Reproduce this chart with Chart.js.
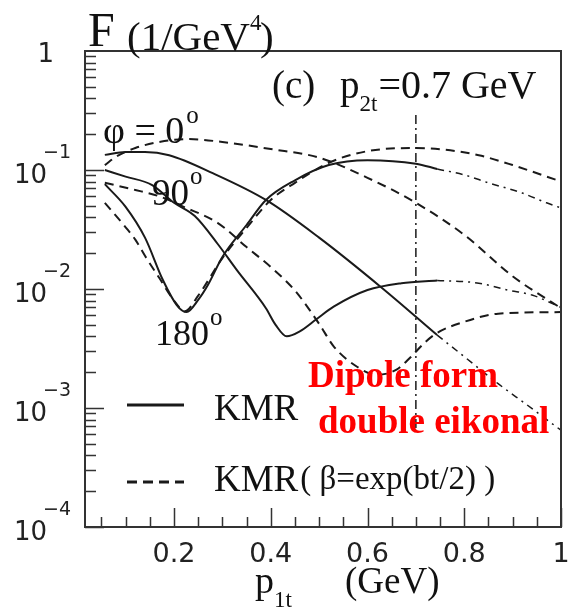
<!DOCTYPE html>
<html>
<head>
<meta charset="utf-8">
<script src="https://cdn.jsdelivr.net/npm/chart.js@4.4.0/dist/chart.umd.min.js"></script>
<style>
    body { margin: 0; background: #fff; }
    #wrap { width: 571px; height: 613px; }
</style>
</head>
<body>
<div id="wrap"><canvas id="graph" width="571" height="613"></canvas></div>
<script>
// KMR, solid (computed up to p1t = 0.744)
const kmr0X = [0.057, 0.10, 0.14, 0.19, 0.28, 0.39, 0.50, 0.63, 0.744];
const kmr0Y = [0.134, 0.142, 0.142, 0.133, 0.094, 0.056, 0.027, 0.0102, 0.0041];
const kmr90X = [0.057, 0.10, 0.154, 0.20, 0.243, 0.29, 0.33, 0.39, 0.41, 0.433, 0.46, 0.495, 0.53, 0.60, 0.67, 0.744];
const kmr90Y = [0.100, 0.088, 0.075, 0.053, 0.041, 0.024, 0.0144, 0.0069, 0.0050, 0.0040, 0.0044, 0.0056, 0.0071, 0.0098, 0.0112, 0.0118];
const kmr180X = [0.057, 0.10, 0.14, 0.177, 0.206, 0.226, 0.25, 0.27, 0.30, 0.35, 0.39, 0.45, 0.52, 0.60, 0.70, 0.744];
const kmr180Y = [0.076, 0.049, 0.027, 0.0119, 0.0073, 0.0064, 0.0081, 0.0108, 0.0186, 0.0345, 0.056, 0.082, 0.110, 0.121, 0.113, 0.102];

// KMR extrapolated (dash-dot) beyond 0.744
const ext0X = [0.744, 0.80, 0.87, 0.93, 1.0];
const ext0Y = [0.0041, 0.0027, 0.0016, 0.00106, 0.00065];
const ext90X = [0.744, 0.83, 0.89, 0.94, 1.0];
const ext90Y = [0.0118, 0.0112, 0.0098, 0.0089, 0.0070];
const ext180X = [0.744, 0.80, 0.85, 0.92, 0.97, 1.0];
const ext180Y = [0.102, 0.091, 0.078, 0.064, 0.053, 0.048];

// KMR with beta = exp(bt/2), dashed
const beta0X = [0.057, 0.08, 0.12, 0.18, 0.23, 0.30, 0.40, 0.50, 0.60, 0.70, 0.80, 0.90, 1.0];
const beta0Y = [0.110, 0.129, 0.153, 0.175, 0.182, 0.172, 0.150, 0.127, 0.086, 0.053, 0.0285, 0.0128, 0.0069];
const beta90X = [0.057, 0.12, 0.17, 0.22, 0.29, 0.35, 0.40, 0.45, 0.50, 0.53, 0.58, 0.62, 0.66, 0.69, 0.72, 0.745, 0.80, 0.87, 1.0];
const beta90Y = [0.078, 0.068, 0.060, 0.049, 0.036, 0.0225, 0.0153, 0.0097, 0.0051, 0.0033, 0.0022, 0.0019, 0.0021, 0.0027, 0.0036, 0.0043, 0.0053, 0.0062, 0.0064];
const beta180X = [0.057, 0.10, 0.12, 0.14, 0.17, 0.20, 0.222, 0.25, 0.30, 0.35, 0.40, 0.45, 0.52, 0.60, 0.70, 0.76, 0.83, 0.90, 1.0];
const beta180Y = [0.053, 0.033, 0.026, 0.019, 0.0123, 0.0080, 0.0065, 0.0088, 0.0182, 0.0326, 0.056, 0.078, 0.115, 0.144, 0.153, 0.148, 0.133, 0.110, 0.080];

// vertical marker at p1t = p2t = 0.7
const markerX = [0.7, 0.7];
const markerY = [0.29, 0.00068];

const xTickValues = [0.2, 0.4, 0.6, 0.8, 1];
const xTickLabels = ['0.2', '0.4', '0.6', '0.8', '1'];
const yTickExponents = [0, -1, -2, -3, -4];

const ink = '#1a1a1a';
const serif = '"Liberation Serif", "Times New Roman", serif';
const sans = '"DejaVu Sans", sans-serif';

function points(xs, ys) {
    return xs.map(function (x, i) { return { x: x, y: ys[i] }; });
}

function solid(xs, ys) {
    return { data: points(xs, ys), borderColor: ink, borderWidth: 2, cubicInterpolationMode: 'monotone' };
}
function dashed(xs, ys) {
    return { data: points(xs, ys), borderColor: ink, borderWidth: 2, borderDash: [9, 6], cubicInterpolationMode: 'monotone' };
}
function dashDot(xs, ys) {
    return { data: points(xs, ys), borderColor: ink, borderWidth: 1.5, borderDash: [7, 5, 2, 5], cubicInterpolationMode: 'monotone' };
}

function text(ctx, str, x, y, font, align) {
    ctx.font = font;
    ctx.textAlign = align || 'left';
    ctx.fillText(str, x, y);
    return ctx.measureText(str).width;
}

const decorations = {
    id: 'decorations',
    afterDraw: function (chart) {
        const ctx = chart.ctx;
        const a = chart.chartArea;
        const xs = chart.scales.x;
        const ys = chart.scales.y;
        ctx.save();
        ctx.strokeStyle = '#333';
        ctx.fillStyle = '#222';
        ctx.lineWidth = 2;
        ctx.setLineDash([]);
        ctx.strokeRect(a.left, a.top, a.right - a.left, a.bottom - a.top);

        // x ticks, inside
        ctx.beginPath();
        for (let i = 1; i <= 20; i++) {
            const px = Math.round(xs.getPixelForValue(i * 0.05)) + 0.5;
            ctx.moveTo(px, a.bottom);
            ctx.lineTo(px, a.bottom - (i % 4 === 0 ? 19 : 10));
        }
        // y ticks, inside
        for (let e = -4; e < 0; e++) {
            for (let m = 1; m <= 9; m++) {
                const py = Math.round(ys.getPixelForValue(m * Math.pow(10, e))) + 0.5;
                ctx.moveTo(a.left, py);
                ctx.lineTo(a.left + (m === 1 ? 19 : 11), py);
            }
        }
        ctx.lineWidth = 1.5;
        ctx.stroke();

        // tick labels
        ctx.textBaseline = 'alphabetic';
        xTickValues.forEach(function (v, i) {
            text(ctx, xTickLabels[i], xs.getPixelForValue(v), 562, '27px ' + sans, 'center');
        });
        yTickExponents.forEach(function (e) {
            const py = ys.getPixelForValue(Math.pow(10, e));
            if (e === 0) {
                text(ctx, '1', 54, py + 11, '26px ' + sans, 'right');
            } else {
                text(ctx, '10', 47, py + 13, '26px ' + sans, 'right');
                text(ctx, '\u2212' + (-e), 43, py - 12, '19px ' + sans, 'left');
            }
        });

        // axis titles
        ctx.fillStyle = '#111';
        text(ctx, 'F', 88, 46, '48px ' + serif);
        let w = text(ctx, '(1/GeV', 127, 50, '41px ' + serif);
        text(ctx, '4', 127 + w, 30, '23px ' + serif);
        text(ctx, ')', 127 + w + 10, 50, '41px ' + serif);

        w = text(ctx, 'p', 255, 593, '38px ' + serif);
        text(ctx, '1t', 255 + w, 607, '23px ' + serif);
        text(ctx, '(GeV)', 345, 593, '37px ' + serif);

        // panel label
        text(ctx, '(c)', 272, 98, '39px ' + serif);
        w = text(ctx, 'p', 340, 98, '39px ' + serif);
        const w2 = text(ctx, '2t', 340 + w, 111, '23px ' + serif);
        text(ctx, '=0.7 GeV', 340 + w + w2 + 1, 98, '40px ' + serif);

        // curve labels
        w = text(ctx, '\u03c6 = 0', 103, 143, '38px ' + serif);
        text(ctx, 'o', 103 + w + 2, 123, '25px ' + serif);
        w = text(ctx, '90', 152, 205, '37px ' + serif);
        text(ctx, 'o', 152 + w + 1, 184, '25px ' + serif);
        w = text(ctx, '180', 155, 345, '36px ' + serif);
        text(ctx, 'o', 155 + w + 1, 325, '25px ' + serif);

        // legend
        ctx.strokeStyle = ink;
        ctx.lineWidth = 3;
        ctx.beginPath();
        ctx.moveTo(127, 405);
        ctx.lineTo(184, 405);
        ctx.stroke();
        ctx.setLineDash([10, 6]);
        ctx.beginPath();
        ctx.moveTo(127, 482);
        ctx.lineTo(184, 482);
        ctx.stroke();
        ctx.setLineDash([]);
        text(ctx, 'KMR', 214, 420, '37px ' + serif);
        w = text(ctx, 'KMR', 214, 491, '37px ' + serif);
        text(ctx, '( \u03b2=exp(bt/2) )', 214 + w + 2, 489, '33px ' + serif);

        // red annotation
        ctx.fillStyle = '#ff0000';
        text(ctx, 'Dipole form', 308, 387, 'bold 37px ' + serif);
        text(ctx, 'double eikonal', 318, 433, 'bold 37px ' + serif);
        ctx.restore();
    }
};

const context = document.getElementById('graph');
new Chart(context, {
    type: 'line',
    data: {
        datasets: [
            solid(kmr0X, kmr0Y),
            solid(kmr90X, kmr90Y),
            solid(kmr180X, kmr180Y),
            dashDot(ext0X, ext0Y),
            dashDot(ext90X, ext90Y),
            dashDot(ext180X, ext180Y),
            dashed(beta0X, beta0Y),
            dashed(beta90X, beta90Y),
            dashed(beta180X, beta180Y),
            { data: points(markerX, markerY), borderColor: ink, borderWidth: 1.5, borderDash: [9, 4, 2, 4], tension: 0 }
        ]
    },
    options: {
        responsive: false,
        animation: false,
        devicePixelRatio: 1,
        layout: { padding: { left: 85, top: 51, right: 10, bottom: 86 } },
        elements: { point: { radius: 0 }, line: { fill: false, borderCapStyle: 'butt' } },
        plugins: { legend: { display: false }, tooltip: { enabled: false } },
        scales: {
            x: { type: 'linear', min: 0.016, max: 1, display: false },
            y: { type: 'logarithmic', min: 0.0001, max: 1, display: false }
        }
    },
    plugins: [decorations]
});
</script>
</body>
</html>
